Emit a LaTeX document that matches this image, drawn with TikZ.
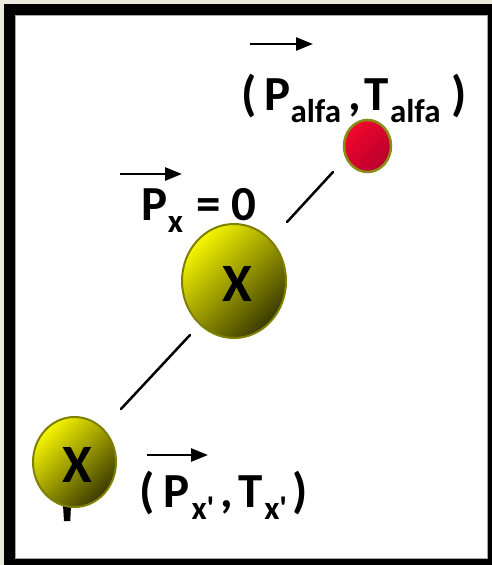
\documentclass[tikz,border=0pt]{standalone}
\usepackage{fontspec}
\setmainfont{Carlito}
\usetikzlibrary{shapes.geometric,arrows.meta}
\definecolor{bgbeige}{HTML}{EBE8DD}
\definecolor{olivebd}{HTML}{7F7F00}
\definecolor{yelA}{HTML}{F6F600}
\definecolor{yelB}{HTML}{D6D600}
\definecolor{yelC}{HTML}{3A3A00}
\definecolor{redA}{HTML}{F2062C}
\definecolor{redC}{HTML}{B8002E}
\newcommand\subt[1]{\raisebox{-12pt}{\fontsize{33}{33}\selectfont #1}}
\newcommand\prm{\textquotesingle}
\tikzset{
  ball/.style={ellipse, draw=olivebd, line width=2pt, inner sep=0pt,
    top color=yelA, middle color=yelB, bottom color=yelC, shading angle=45},
  redball/.style={ellipse, draw=olivebd!90!white, line width=2.5pt, inner sep=0pt,
    top color=redA, bottom color=redC, shading angle=45},
  lbl/.style={anchor=base west, inner sep=0pt, font=\fontsize{49}{49}\selectfont\bfseries},
  xlbl/.style={inner sep=0pt, font=\fontsize{54}{54}\selectfont\bfseries},
  vec/.style={line width=2.6pt, -{Triangle[length=17pt,width=13pt]}},
  link/.style={line width=2.5pt, line cap=round}
}
\begin{document}
\begin{tikzpicture}[x=1pt,y=-1pt]
\useasboundingbox (0,0) rectangle (492,565);
\fill[bgbeige] (0,0) rectangle (492,565);
\fill[black] (4,4) rectangle (500,570);
\fill[white] (15,15) rectangle (487,558);
\draw[gray!70, line width=0.6pt] (15,15) rectangle (487,558);

% connectors
\coordinate (l1a) at (287,222);
\coordinate (l1b) at (333,172);
\coordinate (l2a) at (190,335);
\coordinate (l2b) at (121,409);
\draw[link] (l1a) -- (l1b);
\draw[link] (l2a) -- (l2b);

% stub under small ball
\fill[black] (63,505) -- (71,505) -- (70.3,521) -- (64,521) -- cycle;

% balls
\node[redball, minimum width=47pt, minimum height=52pt] (alfa) at (367.5,146) {};
\node[ball, minimum width=104pt, minimum height=114pt] (bigx) at (234,281) {};
\node[ball, minimum width=83pt, minimum height=90pt] (smallx) at (74.5,462) {};
\node[xlbl] (bigxl) at (237.5,284) {X};
\node[xlbl] (smallxl) at (77.5,465) {X};

% labels
\node[lbl] (topl) at (241,110) {(\kern8pt P\subt{alfa}\kern7pt,\kern4pt T\kern1pt\subt{alfa}\kern11pt)};
\node[lbl] (midl) at (141.5,220) {P\subt{x}\kern14pt=\kern10pt0};
\node[lbl] (botl) at (139,507) {(\kern9pt P\kern2pt\subt{x\prm}\kern6pt,\kern5pt T\kern2pt\subt{x\prm}\kern5pt)};

% vector arrows
\coordinate (a1s) at (250,44); \coordinate (a1e) at (313,44);
\coordinate (a2s) at (120,174); \coordinate (a2e) at (182,174);
\coordinate (a3s) at (147,455); \coordinate (a3e) at (208,455);
\draw[vec] (a1s) -- (a1e);
\draw[vec] (a2s) -- (a2e);
\draw[vec] (a3s) -- (a3e);
\end{tikzpicture}
\end{document}
